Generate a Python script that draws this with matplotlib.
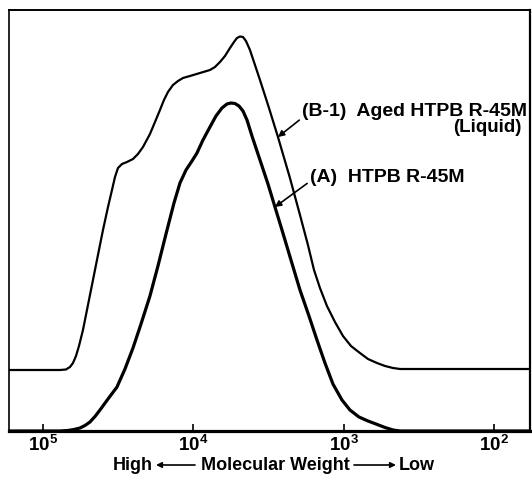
"""
plot.py
-------
GPC traces of HTPB R-45M prepolymer: fresh (A) and aged liquid (B-1),
plotted against molecular weight on a reversed log axis.
"""

import matplotlib
matplotlib.use("Agg")
import matplotlib.pyplot as plt
from matplotlib.patches import FancyArrowPatch
from matplotlib.ticker import NullLocator

# ── Data ───────────────────────────────────────────────────────────────────────

# (A) HTPB R-45M — molecular weight vs detector response (arbitrary units)
MW_A = [168300, 77100, 68200, 62200, 56750, 52550, 48680, 45080, 41770, 36940,
        32190, 28480, 25190, 22280, 19420, 17180, 15190, 13440, 12260, 11180,
        10200, 9450, 8620, 7745, 7063, 6445, 5970, 5614, 5280, 4966,
        4670, 4392, 4069, 3599, 3184, 2861, 2569, 2239, 1950, 1699,
        1503, 1330, 1177, 1025, 907, 790, 688, 609, 530, 469, 421, 57.5]
RESP_A = [0, 0, 0.5, 1.5, 3, 5.5, 9, 14.5, 21, 32,
          44, 62, 83, 107, 135, 165, 197, 228, 248, 261,
          270, 278, 291, 304, 315, 323, 327, 328, 327.5, 325,
          320, 311, 295, 271, 247, 224, 201, 171, 141, 115,
          91, 68, 47, 31, 21, 14, 10, 7, 3.5, 1, 0, 0]

# (B-1) Aged HTPB R-45M (liquid) — trace is offset upward on the chart
MW_B = [168300, 77100, 70310, 66130, 63150, 60310, 57610, 54190, 50190, 46490,
        43070, 39880, 36940, 34740, 33190, 31700, 29810, 27610, 25190, 23340,
        21610, 19420, 17980, 16660, 15670, 14740, 13650, 12640, 11710, 10520,
        9025, 7745, 7173, 6643, 6153, 5700, 5360, 5120, 4890, 4670,
        4461, 4196, 3886, 3599, 3135, 2733, 2274, 1950, 1726, 1573,
        1436, 1290, 1141, 1009, 893, 778, 688, 600, 530, 469, 421, 57.5]
RESP_B = [61, 61, 61.5, 64, 68, 75, 85, 101, 126, 151,
          176, 201, 224, 241, 254, 263, 267, 269, 272, 277,
          284, 297, 309, 321, 331, 339, 346, 350, 353, 355,
          358, 361, 364, 369, 375, 383, 389, 393, 394.5, 394,
          390, 381, 366, 351, 323, 294, 253, 216, 186, 161,
          143, 125, 109, 95, 85, 78, 72, 68, 65, 63, 62, 62]

TICK_MW     = [1e5, 1e4, 1e3, 1e2]
TICK_LABELS = [r"$\mathbf{10^5}$", r"$\mathbf{10^4}$",
               r"$\mathbf{10^3}$", r"$\mathbf{10^2}$"]

LABEL_A  = "(A)  HTPB R-45M"
LABEL_B  = "(B-1)  Aged HTPB R-45M"
LABEL_B2 = "(Liquid)"

X_LIMITS = (168300, 57.5)
Y_LIMITS = (0, 421)

# ── Style ──────────────────────────────────────────────────────────────────────

plt.rcParams["font.family"] = ["Liberation Sans", "DejaVu Sans"]
plt.rcParams["font.weight"] = "bold"
plt.rcParams["mathtext.fontset"] = "custom"
plt.rcParams["mathtext.rm"] = "Liberation Sans:bold"
plt.rcParams["mathtext.bf"] = "Liberation Sans:bold"


def px(x, y):
    """Pixel position in the 532x480 canvas -> figure fraction."""
    return x / 532, 1 - y / 480


def main() -> None:
    fig = plt.figure(figsize=(5.32, 4.80), dpi=100)
    ax = fig.add_axes([9 / 532, 49 / 480, 521 / 532, 421 / 480])

    # ── Traces ─────────────────────────────────────────────────────────────────
    ax.plot(MW_B, RESP_B, color="black", linewidth=1.6,
            solid_joinstyle="round", solid_capstyle="round")
    ax.plot(MW_A, RESP_A, color="black", linewidth=2.3,
            solid_joinstyle="round", solid_capstyle="round")

    # ── Axes ───────────────────────────────────────────────────────────────────
    ax.set_xscale("log")
    ax.set_xlim(*X_LIMITS)
    ax.set_ylim(*Y_LIMITS)
    ax.set_xticks(TICK_MW)
    ax.set_xticklabels(TICK_LABELS, fontsize=13.5)
    ax.xaxis.set_minor_locator(NullLocator())
    ax.set_yticks([])
    ax.tick_params(axis="x", direction="in", length=5, width=1.2, pad=3)

    ax.spines["bottom"].set_linewidth(2.3)
    ax.spines["left"].set_linewidth(1.2)
    ax.spines["top"].set_linewidth(1.4)
    ax.spines["right"].set_linewidth(1.6)

    # ── Curve labels ───────────────────────────────────────────────────────────
    arrow = dict(arrowstyle="-|>", color="black", lw=1.2, mutation_scale=9,
                 shrinkA=0, shrinkB=0)
    ax.annotate(LABEL_B, xy=(2733, 294), xytext=(1890, 319),
                ha="left", va="center", fontsize=14, fontweight="bold",
                arrowprops=dict(arrow, relpos=(0, 0.15)))
    ax.text(66, 303, LABEL_B2, ha="right", va="center",
            fontsize=13.5, fontweight="bold")
    ax.annotate(LABEL_A, xy=(2861, 224), xytext=(1675, 253),
                ha="left", va="center", fontsize=14, fontweight="bold",
                arrowprops=dict(arrow, relpos=(0, 0.3)))

    # ── X label with direction arrows ──────────────────────────────────────────
    y_lab = 465
    fig.text(*px(113, y_lab), "High", ha="left", va="center",
             fontsize=13, fontweight="bold")
    fig.text(*px(275, y_lab), "Molecular Weight", ha="center", va="center",
             fontsize=13, fontweight="bold")
    fig.text(*px(435, y_lab), "Low", ha="right", va="center",
             fontsize=13, fontweight="bold")
    head = dict(arrowstyle="-|>", color="black", lw=1.2, mutation_scale=8,
                shrinkA=0, shrinkB=0, transform=fig.transFigure)
    fig.add_artist(FancyArrowPatch(px(195, y_lab), px(156, y_lab), **head))
    fig.add_artist(FancyArrowPatch(px(354, y_lab), px(396, y_lab), **head))

    fig.savefig("out.png", dpi=100)
    plt.close(fig)


if __name__ == "__main__":
    main()
